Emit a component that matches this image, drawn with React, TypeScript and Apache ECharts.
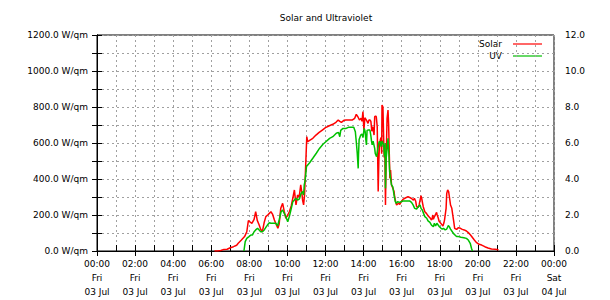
import React, { useEffect, useRef } from "react";
import * as echarts from "echarts";

// Solar radiation readings (W/qm) for Fri 03 Jul, as [time, value]
const solarReadings: [string, number][] = [
  ["06:10", 0], ["06:20", 0], ["06:30", 3], ["06:40", 9], ["06:50", 10],
  ["07:00", 18], ["07:10", 24], ["07:20", 32], ["07:25", 43], ["07:35", 61],
  ["07:45", 80], ["07:52", 107], ["07:57", 169], ["08:03", 160], ["08:08", 154],
  ["08:15", 176], ["08:20", 218], ["08:25", 170], ["08:31", 144], ["08:36", 120],
  ["08:41", 107], ["08:47", 160], ["08:52", 191], ["08:58", 200], ["09:03", 209],
  ["09:08", 218], ["09:13", 205], ["09:19", 172], ["09:24", 150], ["09:30", 126],
  ["09:34", 150], ["09:39", 237], ["09:45", 265], ["09:50", 220], ["09:55", 182],
  ["10:01", 200], ["10:06", 218], ["10:12", 250], ["10:17", 293], ["10:22", 339],
  ["10:27", 256], ["10:32", 311], ["10:37", 300], ["10:42", 367], ["10:45", 330],
  ["10:48", 280], ["10:51", 256], ["10:54", 311], ["10:56", 404], ["10:59", 543],
  ["11:01", 635], ["11:04", 607], ["11:10", 615], ["11:20", 626], ["11:30", 644],
  ["11:40", 659], ["11:50", 672], ["12:00", 685], ["12:12", 696], ["12:23", 704],
  ["12:33", 715], ["12:40", 728], ["12:45", 720], ["12:50", 715], ["12:58", 726],
  ["13:05", 728], ["13:15", 728], ["13:25", 728], ["13:32", 737], ["13:37", 759],
  ["13:42", 746], ["13:47", 728], ["13:52", 737], ["13:55", 720], ["13:58", 774],
  ["14:01", 672], ["14:04", 740], ["14:08", 730], ["14:11", 720], ["14:14", 709],
  ["14:17", 728], ["14:20", 728], ["14:23", 720], ["14:26", 665], ["14:28", 691],
  ["14:30", 680], ["14:33", 644], ["14:35", 746], ["14:38", 750], ["14:40", 746],
  ["14:43", 691], ["14:46", 330], ["14:48", 496], ["14:50", 590], ["14:53", 620],
  ["14:55", 630], ["14:57", 540], ["14:58", 811], ["15:01", 800], ["15:03", 644],
  ["15:05", 520], ["15:07", 555], ["15:09", 256], ["15:11", 500], ["15:14", 737],
  ["15:17", 783], ["15:19", 700], ["15:21", 540], ["15:23", 404], ["15:25", 450],
  ["15:28", 367], ["15:32", 350], ["15:36", 330], ["15:38", 300], ["15:41", 274],
  ["15:44", 256], ["15:50", 265], ["15:54", 259], ["15:59", 274], ["16:04", 287],
  ["16:10", 293], ["16:20", 302], ["16:30", 293], ["16:37", 283], ["16:40", 293],
  ["16:44", 278], ["16:47", 246], ["16:52", 241], ["16:55", 256], ["16:58", 283],
  ["17:01", 307], ["17:03", 293], ["17:06", 265], ["17:08", 246], ["17:13", 218],
  ["17:18", 209], ["17:23", 196], ["17:29", 185], ["17:34", 172], ["17:36", 180],
  ["17:38", 200], ["17:40", 176], ["17:43", 190], ["17:50", 215], ["17:52", 200],
  ["17:55", 185], ["17:58", 165], ["18:06", 148], ["18:10", 139], ["18:13", 155],
  ["18:15", 172], ["18:20", 237], ["18:22", 320], ["18:25", 339], ["18:28", 330],
  ["18:31", 293], ["18:34", 255], ["18:38", 237], ["18:41", 200], ["18:44", 165],
  ["18:47", 126], ["18:53", 120], ["18:59", 130], ["19:05", 126], ["19:11", 120],
  ["19:17", 117], ["19:24", 111], ["19:30", 102], ["19:37", 89], ["19:43", 75],
  ["19:49", 61], ["19:55", 48], ["20:04", 37], ["20:12", 33], ["20:22", 24],
  ["20:32", 17], ["20:43", 11], ["20:55", 10], ["21:05", 7],
];

// UV index readings for the same day, as [time, value]
const uvReadings: [string, number][] = [
  ["07:43", 0], ["07:47", 0.52], ["07:52", 0.7], ["07:59", 0.8], ["08:05", 0.89],
  ["08:10", 0.89], ["08:15", 1.07], ["08:20", 1.17], ["08:26", 1.26], ["08:31", 1.17],
  ["08:36", 1.07], ["08:41", 1.07], ["08:47", 1.17], ["08:52", 1.31], ["08:57", 1.44],
  ["09:03", 1.57], ["09:08", 1.54], ["09:14", 1.54], ["09:19", 1.54], ["09:24", 1.54],
  ["09:29", 1.39], ["09:34", 1.72], ["09:40", 2.18], ["09:45", 2.28], ["09:50", 2.09],
  ["09:55", 1.91], ["10:01", 1.63], ["10:06", 1.91], ["10:11", 2.28], ["10:17", 2.74],
  ["10:22", 2.83], ["10:27", 2.93], ["10:32", 2.83], ["10:38", 2.9], ["10:43", 3.2],
  ["10:48", 3.3], ["10:51", 3.11], ["10:53", 3.67], ["10:56", 3.94], ["11:00", 4.69],
  ["11:04", 4.78], ["11:10", 4.9], ["11:20", 5.15], ["11:31", 5.43], ["11:41", 5.7],
  ["11:52", 5.93], ["12:01", 6.07], ["12:13", 6.26], ["12:23", 6.35], ["12:34", 6.54],
  ["12:41", 6.59], ["12:45", 6.35], ["12:48", 6.7], ["12:55", 6.81], ["13:05", 6.81],
  ["13:12", 6.87], ["13:20", 6.87], ["13:29", 6.87], ["13:34", 6.63], ["13:37", 6.07],
  ["13:40", 5.43], ["13:43", 4.59], ["13:44", 5.33], ["13:46", 6.2], ["13:51", 6.44],
  ["13:55", 6.5], ["13:58", 6.3], ["14:02", 6.81], ["14:05", 6.63], ["14:07", 6.2],
  ["14:09", 5.89], ["14:11", 6.7], ["14:15", 6.72], ["14:20", 6.72], ["14:23", 6.4],
  ["14:25", 6.1], ["14:27", 5.9], ["14:30", 6.1], ["14:35", 5.7], ["14:37", 5.4],
  ["14:41", 5.24], ["14:45", 5.7], ["14:49", 6.07], ["14:53", 6.07], ["14:55", 5.8],
  ["14:59", 6.1], ["15:01", 6.0], ["15:04", 5.8], ["15:06", 5.24], ["15:08", 6.0],
  ["15:09", 3.48], ["15:11", 5.1], ["15:17", 6.26], ["15:20", 5.3], ["15:22", 4.41],
  ["15:26", 3.9], ["15:28", 3.67], ["15:32", 3.57], ["15:36", 3.11], ["15:40", 2.74],
  ["15:43", 2.65], ["15:47", 2.74], ["15:54", 2.7], ["16:04", 2.78], ["16:15", 2.78],
  ["16:25", 2.78], ["16:31", 2.7], ["16:36", 2.56], ["16:41", 2.37], ["16:47", 2.33],
  ["16:52", 2.46], ["16:58", 2.56], ["17:01", 2.37], ["17:05", 2.28], ["17:09", 2.09],
  ["17:13", 1.91], ["17:19", 1.82], ["17:23", 1.67], ["17:29", 1.59], ["17:34", 1.44],
  ["17:40", 1.35], ["17:43", 1.54], ["17:47", 1.39], ["17:51", 1.54], ["17:55", 1.44],
  ["17:59", 1.35], ["18:04", 1.26], ["18:08", 1.22], ["18:12", 1.26], ["18:17", 1.17],
  ["18:22", 1.22], ["18:27", 1.41], ["18:30", 1.35], ["18:34", 1.22], ["18:38", 1.11],
  ["18:43", 0.98], ["18:48", 0.89], ["18:53", 0.8], ["18:59", 0.8], ["19:07", 0.76],
  ["19:16", 0.74], ["19:24", 0.7], ["19:30", 0.61], ["19:36", 0.43], ["19:40", 0.15],
  ["19:43", 0],
];

// Labels under every second hour mark (00:00 Fri .. 00:00 Sat)
const xTickLabels = [
  "00:00\nFri\n03 Jul", "02:00\nFri\n03 Jul", "04:00\nFri\n03 Jul",
  "06:00\nFri\n03 Jul", "08:00\nFri\n03 Jul", "10:00\nFri\n03 Jul",
  "12:00\nFri\n03 Jul", "14:00\nFri\n03 Jul", "16:00\nFri\n03 Jul",
  "18:00\nFri\n03 Jul", "20:00\nFri\n03 Jul", "22:00\nFri\n03 Jul",
  "00:00\nSat\n04 Jul",
];

const seriesNames = ["Solar", "UV"];
const seriesColors = ["#ff0000", "#00c000"];

const FONT = "DejaVu Sans";

const toHours = (t: string) => {
  const [h, m] = t.split(":").map(Number);
  return h + m / 60;
};

export default function App() {
  const ref = useRef<HTMLDivElement>(null);

  useEffect(() => {
    if (!ref.current) return;
    const chart = echarts.init(ref.current, undefined, { renderer: "svg" });

    const gridLeft = 97;
    const gridRight = 56;
    const gridTop = 35;
    const gridBottom = 49;
    const plotRight = 610 - gridRight;

    const dashed = { color: "#a0a0a0", type: [2, 3] as number[], width: 1 };
    const label = { fontFamily: FONT, fontSize: 9, color: "#000" };

    chart.setOption({
      animation: false,
      backgroundColor: "#ffffff",
      textStyle: { fontFamily: FONT },
      grid: {
        left: gridLeft,
        right: gridRight,
        top: gridTop,
        bottom: gridBottom,
        show: true,
        borderColor: "#000",
        borderWidth: 1,
        backgroundColor: "transparent",
      },
      xAxis: [
        {
          type: "value",
          min: 0,
          max: 24,
          interval: 1,
          axisLine: { show: true, lineStyle: { color: "#000", width: 1 } },
          axisTick: { show: true, inside: true, length: 6, lineStyle: { color: "#000", width: 1 } },
          splitLine: { show: true, lineStyle: dashed },
          axisLabel: {
            ...label,
            showMinLabel: true,
            showMaxLabel: true,
            margin: 6,
            lineHeight: 14,
            formatter: (v: number) => (v % 2 === 0 ? xTickLabels[v / 2] : ""),
          },
        },
        {
          type: "value",
          position: "top",
          min: 0,
          max: 24,
          interval: 2,
          axisLine: { show: false },
          axisTick: { show: true, inside: true, length: 5, lineStyle: { color: "#000", width: 1 } },
          splitLine: { show: false },
          axisLabel: { show: false },
        },
      ],
      yAxis: [
        {
          type: "value",
          min: 0,
          max: 1200,
          interval: 100,
          axisLine: { show: true, lineStyle: { color: "#000", width: 1 } },
          axisTick: { show: true, inside: true, length: 5, lineStyle: { color: "#000", width: 1 } },
          splitLine: { show: true, lineStyle: dashed },
          axisLabel: {
            ...label,
            margin: 9,
            formatter: (v: number) => (v % 200 === 0 ? `${v.toFixed(1)} W/qm` : ""),
          },
        },
        {
          type: "value",
          min: 0,
          max: 12,
          interval: 1,
          position: "right",
          axisLine: { show: true, lineStyle: { color: "#000", width: 1 } },
          axisTick: { show: true, inside: true, length: 5, lineStyle: { color: "#000", width: 1 } },
          splitLine: { show: false },
          axisLabel: {
            ...label,
            margin: 11,
            formatter: (v: number) => (v % 2 === 0 ? v.toFixed(1) : ""),
          },
        },
      ],
      graphic: [
        {
          type: "text",
          x: 326,
          y: 18,
          style: {
            text: "Solar and Ultraviolet",
            fontFamily: FONT,
            fontSize: 9,
            fill: "#000",
            textAlign: "center",
            textVerticalAlign: "middle",
          },
        },
        ...seriesNames.flatMap((name, i) => {
          const y = 44 + i * 12;
          return [
            {
              type: "text",
              x: 502,
              y,
              style: {
                text: name,
                fontFamily: FONT,
                fontSize: 9,
                fill: "#000",
                textAlign: "right",
                textVerticalAlign: "middle",
              },
            },
            {
              type: "line",
              shape: { x1: 513, y1: y, x2: 542, y2: y },
              style: { stroke: seriesColors[i], lineWidth: 1.2 },
            },
          ];
        }),
      ],
      series: [
        {
          name: seriesNames[0],
          type: "line",
          xAxisIndex: 0,
          yAxisIndex: 0,
          showSymbol: false,
          symbol: "none",
          lineStyle: { color: seriesColors[0], width: 1.5 },
          itemStyle: { color: seriesColors[0] },
          data: solarReadings.map(([t, v]) => [toHours(t), v]),
          z: 3,
        },
        {
          name: seriesNames[1],
          type: "line",
          xAxisIndex: 0,
          yAxisIndex: 1,
          showSymbol: false,
          symbol: "none",
          lineStyle: { color: seriesColors[1], width: 1.5 },
          itemStyle: { color: seriesColors[1] },
          data: uvReadings.map(([t, v]) => [toHours(t), v]),
          z: 4,
        },
      ],
    });

    void plotRight;
    return () => chart.dispose();
  }, []);

  return (
    <div
      ref={ref}
      style={{ position: "fixed", left: 0, top: 0, width: 610, height: 300, background: "#fff" }}
    />
  );
}
